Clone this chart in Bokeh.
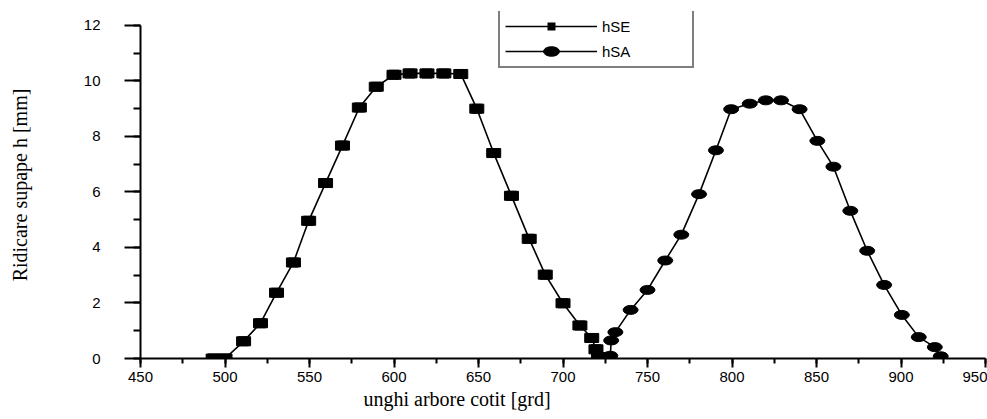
from bokeh.plotting import figure
from bokeh.models import Legend, LegendItem, Title, SingleIntervalTicker, Range1d
from bokeh.embed import file_html
from bokeh.resources import INLINE

# ---- data ----
se_x = [493, 500, 511, 521, 530.5, 540.5, 549.5, 559.5, 569.5, 579.5, 589.5, 600,
        609.5, 619.5, 629.5, 639.5, 649, 659, 669.5, 680, 689.5, 700, 710, 717, 719.5, 721]
se_y = [0, 0, 0.62, 1.27, 2.37, 3.46, 4.96, 6.32, 7.67, 9.04, 9.79, 10.22,
        10.27, 10.27, 10.27, 10.25, 9.0, 7.4, 5.86, 4.31, 3.02, 1.99, 1.19, 0.74, 0.33, 0.05]

sa_x = [724, 728, 728.5, 731, 740, 750, 760.5, 770, 780.5, 790.5, 799.5, 810.5,
        820, 829, 840, 850.5, 860, 870, 880, 890, 900.5, 910.5, 920, 923.5]
sa_y = [0, 0.1, 0.65, 0.95, 1.75, 2.47, 3.53, 4.46, 5.92, 7.5, 8.98, 9.18,
        9.3, 9.3, 8.98, 7.84, 6.91, 5.32, 3.88, 2.65, 1.57, 0.77, 0.41, 0.08]

series_labels = ["hSE", "hSA"]
x_title = "unghi arbore cotit [grd]"
y_title = "Ridicare supape h [mm]"
x_limits = (450, 950)
y_axis_bounds = (0, 12)
y_view = (0, 12.5)   # a little headroom above 12 for the legend box

p = figure(width=987, height=415, output_backend="svg", toolbar_location=None,
           x_range=Range1d(*x_limits), y_range=Range1d(*y_view),
           min_border_left=140, min_border_right=2, min_border_top=11, min_border_bottom=57)
p.background_fill_color = "white"
p.border_fill_color = "white"
p.outline_line_color = None
p.grid.visible = False

p.xaxis.ticker = SingleIntervalTicker(interval=50, num_minor_ticks=2)
p.yaxis.ticker = SingleIntervalTicker(interval=2, num_minor_ticks=2)
p.yaxis.bounds = y_axis_bounds

for ax in (p.xaxis[0], p.yaxis[0]):
    ax.axis_line_color = "black"
    ax.axis_line_width = 2
    ax.major_tick_line_color = "black"
    ax.major_tick_line_width = 2
    ax.minor_tick_line_color = "black"
    ax.minor_tick_line_width = 2
    ax.major_tick_in = 0
    ax.minor_tick_in = 0
    ax.major_label_text_font = "Liberation Sans"
    ax.major_label_text_font_size = "15px"
    ax.major_label_text_color = "black"

p.xaxis.major_tick_out = 9
p.xaxis.minor_tick_out = 5
p.xaxis.major_label_standoff = 4
p.yaxis.major_tick_out = 16
p.yaxis.minor_tick_out = 7
p.yaxis.major_label_standoff = 24

p.yaxis.axis_label = y_title
p.yaxis.axis_label_text_font = "Liberation Serif"
p.yaxis.axis_label_text_font_size = "20px"
p.yaxis.axis_label_text_font_style = "normal"
p.yaxis.axis_label_text_color = "black"
p.yaxis.axis_label_standoff = 50

# lines
l_se = p.line(se_x, se_y, line_color="black", line_width=1.6)
l_sa = p.line(sa_x, sa_y, line_color="black", line_width=1.6)

# hidden square markers (covered by rects) used for the legend symbol
s_leg = p.scatter(se_x, se_y, marker="square", size=10, fill_color="black", line_color=None)

# markers
r_se = p.rect(se_x, se_y, width=14, height=9, width_units="screen", height_units="screen",
              fill_color="black", line_color="black", line_width=1)
e_sa = p.ellipse(sa_x, sa_y, width=15, height=9, width_units="screen", height_units="screen",
                 fill_color="black", line_color="black", line_width=1)

legend = Legend(items=[LegendItem(label=series_labels[0], renderers=[l_se, s_leg]),
                       LegendItem(label=series_labels[1], renderers=[l_sa, e_sa])],
                location=(358, 290), glyph_width=92, glyph_height=20, label_height=20,
                label_width=85, spacing=5, padding=5, margin=0, label_standoff=5,
                border_line_color="black", border_line_width=2,
                background_fill_color="white", background_fill_alpha=1.0,
                label_text_font="Liberation Sans", label_text_font_size="15px",
                label_text_color="black")
p.add_layout(legend)

xt = Title(text=x_title, align="left", offset=223, standoff=2,
           text_font="Liberation Serif", text_font_size="20px",
           text_font_style="normal", text_color="black")
p.add_layout(xt, "below")

open("out.html", "w").write(file_html(p, INLINE))
